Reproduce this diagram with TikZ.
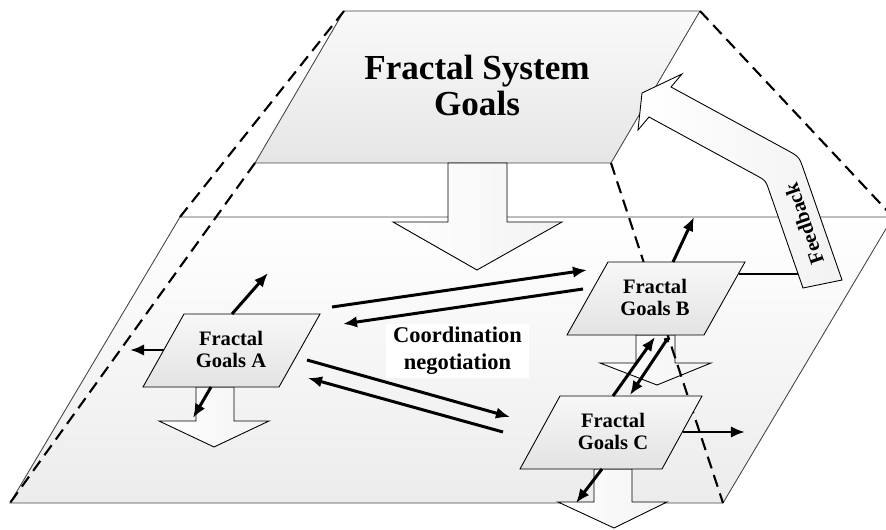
\documentclass[tikz,border=0pt]{standalone}
\usepackage{fontspec}
\setmainfont{Liberation Serif}
\usepackage{xcolor}
\usepackage{tikz}
\usetikzlibrary{arrows.meta, positioning, calc}
\definecolor{planegray}{RGB}{236,236,236}
\definecolor{edgegray}{RGB}{70,70,70}

\tikzset{
  plane/.style={draw=edgegray, line width=0.5pt, top color=white, bottom color=planegray},
  goal/.style={draw=black, line width=0.5pt, top color=black!3, bottom color=black!11},
  blockarrow/.style={draw=black, line width=0.5pt, left color=white, right color=black!5},
  proj/.style={line width=1.2pt, dash pattern=on 7pt off 4pt},
  flow/.style={-{Latex[length=8pt,width=6.5pt]}, line width=1.7pt},
  goaltext/.style={font=\bfseries\fontsize{11.7}{12.5}\selectfont, align=center, inner sep=0pt}
}

\begin{document}
\begin{tikzpicture}[x=0.02cm, y=-0.02cm]
            \useasboundingbox (0,0) rectangle (886,530);
            \draw[plane] (180,217) -- (893,217) -- (723,503) -- (10,503) -- cycle;
            \draw[plane, top color=black!2, bottom color=black!10] (344,11) -- (700,11) -- (611,163) -- (255,163) -- cycle;
            \node[font=\bfseries\fontsize{20}{20.5}\selectfont, align=center, inner sep=0pt] (sys) at (477,85) {Fractal System\\Goals};
            \draw[blockarrow] (448,163) -- (507,163) -- (507,222) -- (562,222) -- (477,270) -- (393,222) -- (448,222) -- cycle;
            \draw[blockarrow, fill=white] (803,288) -- (768.9,190) .. controls (765.6,180.5) .. (756.8,175.7) -- (649,117) -- (638,130) -- (642,93) -- (682,74) -- (671,87) -- (786.8,150) .. controls (799.1,156.7) .. (803.7,169.9) -- (842,280) -- cycle;
            \node[goaltext, rotate=109] (fb) at (804,224) {Feedback};
            \draw[blockarrow] (196,387) -- (234,387) -- (234,421) -- (269,421) -- (214,447) -- (159,421) -- (196,421) -- cycle;
            \draw[blockarrow] (636,335) -- (675,335) -- (675,363) -- (711,363) -- (657,385) -- (600,363) -- (636,363) -- cycle;
            \draw[blockarrow] (594,469) -- (632,469) -- (632,502) -- (667,502) -- (614,528) -- (558,502) -- (594,502) -- cycle;
            \draw[proj] (344,11) -- (180,217);
            \draw[proj] (255,163) -- (10,503);
            \draw[proj] (700,11) -- (893,217);
            \draw[proj] (611,163) -- (723,503);
            \draw[goal] (184,314) -- (320,314) -- (279,387) -- (143,387) -- cycle;
            \draw[goal] (608,262) -- (745,262) -- (704,335) -- (567,335) -- cycle;
            \draw[goal] (560,396) -- (702,396) -- (662,469) -- (520,469) -- cycle;
            \node[goaltext] (ga) at (231,349) {Fractal\\Goals A};
            \node[goaltext] (gb) at (655,297) {Fractal\\Goals B};
            \node[goaltext] (gc) at (613,431) {Fractal\\Goals C};
            \node[fill=white, inner xsep=4pt, inner ysep=2pt, align=center, font=\bfseries\fontsize{12.8}{15.4}\selectfont] (coord) at (457.5,351) {Coordination\\negotiation};
            \coordinate (a-n) at (232,314);
            \coordinate (a-w) at (164,350);
            \coordinate (a-s) at (211,387);
            \coordinate (a-up) at (268,273);
            \coordinate (a-left) at (130,350);
            \coordinate (a-down) at (193,418);
            \coordinate (a-b1) at (332,307);
            \coordinate (a-b2) at (343,324);
            \coordinate (a-c1) at (307,360);
            \coordinate (a-c2) at (308,378);
            \coordinate (b-a1) at (587,270);
            \coordinate (b-a2) at (583,289);
            \coordinate (b-n) at (673,262);
            \coordinate (b-up) at (694,217);
            \coordinate (b-e) at (739,274);
            \coordinate (fb-w) at (798,274);
            \coordinate (b-s1) at (655,337);
            \coordinate (b-s2) at (668,338);
            \coordinate (c-a1) at (510,417);
            \coordinate (c-a2) at (503,432);
            \coordinate (c-n1) at (613,396);
            \coordinate (c-n2) at (630,395);
            \coordinate (c-e) at (683,432);
            \coordinate (c-right) at (745,432);
            \coordinate (c-s) at (602,469);
            \coordinate (c-down) at (576,503);
            \draw[flow] (a-n) -- (a-up);
            \draw[flow] (a-w) -- (a-left);
            \draw[flow] (a-s) -- (a-down);
            \draw[flow] (a-b1) -- (b-a1);
            \draw[flow] (b-a2) -- (a-b2);
            \draw[flow] (a-c1) -- (c-a1);
            \draw[flow] (c-a2) -- (a-c2);
            \draw[flow] (b-n) -- (b-up);
            \draw[line width=1.7pt] (b-e) -- (fb-w);
            \draw[flow] (c-n1) -- (b-s1);
            \draw[flow, {Circle[open,length=3pt]}-{Latex[length=8pt,width=6.5pt]}] (b-s2) -- (c-n2);
            \draw[flow] (c-e) -- (c-right);
            \draw[flow] (c-s) -- (c-down);
        \end{tikzpicture}
\end{document}
